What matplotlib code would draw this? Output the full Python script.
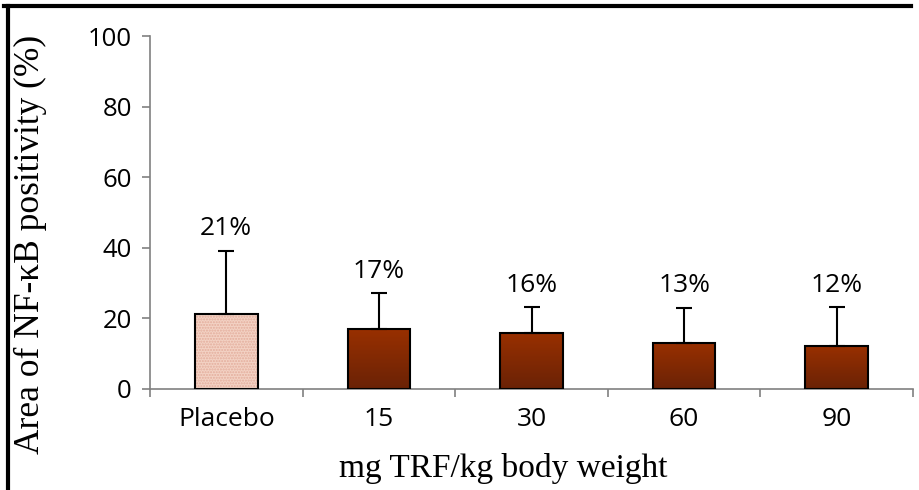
import matplotlib
matplotlib.use("Agg")
import matplotlib.pyplot as plt
import numpy as np
from matplotlib.colors import LinearSegmentedColormap
from matplotlib.lines import Line2D

categories = ["Placebo", "15", "30", "60", "90"]
values = [21.2, 17.0, 15.9, 13.1, 12.3]
err_upper = [17.9, 10.1, 7.2, 9.8, 10.8]
labels = ["21%", "17%", "16%", "13%", "12%"]
yticks = [0, 20, 40, 60, 80, 100]

fig = plt.figure(figsize=(9.2, 4.9), dpi=100)
ax = fig.add_axes([150/920, 1-389/490, (913-150)/920, (389-36)/490])

x = np.arange(len(categories))
width = 0.41

cmap = LinearSegmentedColormap.from_list("br", ["#6a2206", "#993000"])
grad = np.linspace(0, 1, 256).reshape(-1, 1)

for i, (xi, v) in enumerate(zip(x, values)):
    if i == 0:
        ax.bar(xi, v, width, color="#f3d2c4", edgecolor="#e3ad9c", hatch="......",
               linewidth=0, zorder=2)
        ax.bar(xi, v, width, facecolor="none", edgecolor="black", linewidth=1.5, zorder=3)
    else:
        b = ax.bar(xi, v, width, facecolor="none", edgecolor="black", linewidth=1.5, zorder=3)[0]
        im = ax.imshow(grad, cmap=cmap, origin="lower", aspect="auto",
                       extent=[xi - width/2, xi + width/2, 0, v], zorder=2)
        im.set_clip_path(b)

ax.errorbar(x, values, yerr=[np.zeros(len(values)), err_upper], fmt="none",
            ecolor="black", elinewidth=1.5, capsize=6, capthick=1.5, zorder=4)

for xi, v, e, lab in zip(x, values, err_upper, labels):
    ax.annotate(lab, (xi, v + e), xytext=(0, 16), textcoords="offset points",
                ha="center", va="center", fontsize=19, family="Open Sans")

ax.set_xlim(-0.5, len(categories) - 0.5)
ax.set_ylim(0, 100)
ax.set_yticks(yticks)
ax.set_yticklabels([str(t) for t in yticks], fontsize=18.5, family="Open Sans")
ax.set_xticks(x)
ax.set_xticklabels(categories, fontsize=19, family="Open Sans")
ax.tick_params(axis="x", length=0, pad=13)
ax.set_xticks(np.arange(-0.5, len(categories)), minor=True)
ax.tick_params(axis="x", which="minor", length=6, color="#808080", width=1.2)
ax.tick_params(axis="y", length=6, color="#808080", width=1.2, pad=7)

for s in ["top", "right"]:
    ax.spines[s].set_visible(False)
for s in ["left", "bottom"]:
    ax.spines[s].set_color("#808080")
    ax.spines[s].set_linewidth(1.2)

ax.set_ylabel("Area of NF-\u03baB positivity (%)", fontsize=25.5, family="Liberation Serif")
ax.set_xlabel("mg TRF/kg body weight", fontsize=24, family="Liberation Serif")
ax.yaxis.set_label_coords(-0.135, 0.409)
ax.xaxis.set_label_coords(0.463, -0.18)

# frame lines (top and left)
fig.add_artist(Line2D([4/920, 911/920], [1-6/490, 1-6/490], color="black", lw=3, transform=fig.transFigure))
fig.add_artist(Line2D([8/920, 8/920], [1-6/490, 0], color="black", lw=3, transform=fig.transFigure))

fig.savefig("out.png", dpi=100)
